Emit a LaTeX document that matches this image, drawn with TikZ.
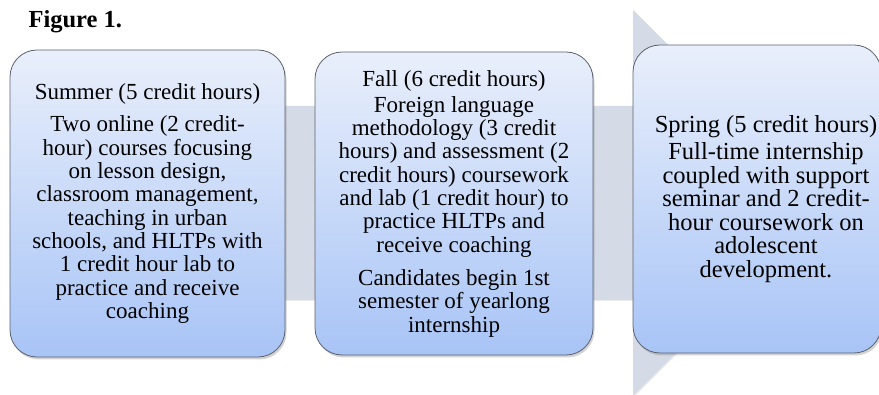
\documentclass[tikz,border=0pt]{standalone}
\usepackage{fontspec}
\setmainfont{Liberation Serif}
\usetikzlibrary{shadows}

\definecolor{arrowgray}{RGB}{213,219,230}
\definecolor{boxtop}{RGB}{233,239,251}
\definecolor{boxbottom}{RGB}{168,196,246}
\definecolor{boxline}{RGB}{92,98,110}

\tikzset{
  stage/.style={rectangle, rounded corners=27pt, draw=boxline, line width=0.8pt,
    top color=boxtop, bottom color=boxbottom, inner sep=0pt,
    drop shadow={opacity=0.35, shadow xshift=1.5pt, shadow yshift=-2.5pt}},
  stagetext/.style={align=center, inner sep=0pt, font=\fontsize{23}{23.3}\selectfont},
}

\begin{document}
\begin{tikzpicture}[x=1pt,y=-1pt]
\useasboundingbox (0,0) rectangle (879,395);
% big arrow behind the three stages
\path[fill=arrowgray, drop shadow={opacity=0.15, shadow xshift=1pt, shadow yshift=-1pt}]
  (20,106) -- (633,106) -- (633,10) -- (826,203) -- (633,396) -- (633,300) -- (20,300) -- cycle;
\node[anchor=base west, font=\fontsize{24.5}{28}\selectfont\bfseries] (fig) at (25,28) {Figure 1.};
\node[stage, minimum width=275pt, minimum height=307pt] (sum) at (147.5,203.5) {};
\node[stage, minimum width=278pt, minimum height=303pt] (fal) at (454,203.5) {};
\node[stage, minimum width=248pt, minimum height=308pt] (spr) at (757,199) {};
\node[stagetext] (sumtxt) at (sum.center) {Summer (5 credit hours)\\[9pt]
  Two online (2 credit-\\hour) courses focusing\\on lesson design,\\classroom management,\\teaching in urban\\schools, and HLTPs with\\1 credit hour lab to\\practice and receive\\coaching};
\node[stagetext] (faltxt) at (fal.center) {Fall (6 credit hours)\\[3pt]
  Foreign language\\methodology (3 credit\\hours) and assessment (2\\credit hours) coursework\\and lab (1 credit hour) to\\practice HLTPs and\\receive coaching\\[10pt]
  Candidates begin 1st\\semester of yearlong\\internship};
\node[stagetext, font=\fontsize{24.5}{23.5}\selectfont] (sprtxt) at ([xshift=9pt]spr.center) {Spring (5 credit hours)\\[4pt]
  Full-time internship\\coupled with support\\seminar and 2 credit-\\hour coursework on\\adolescent\\development.};
\end{tikzpicture}
\end{document}
